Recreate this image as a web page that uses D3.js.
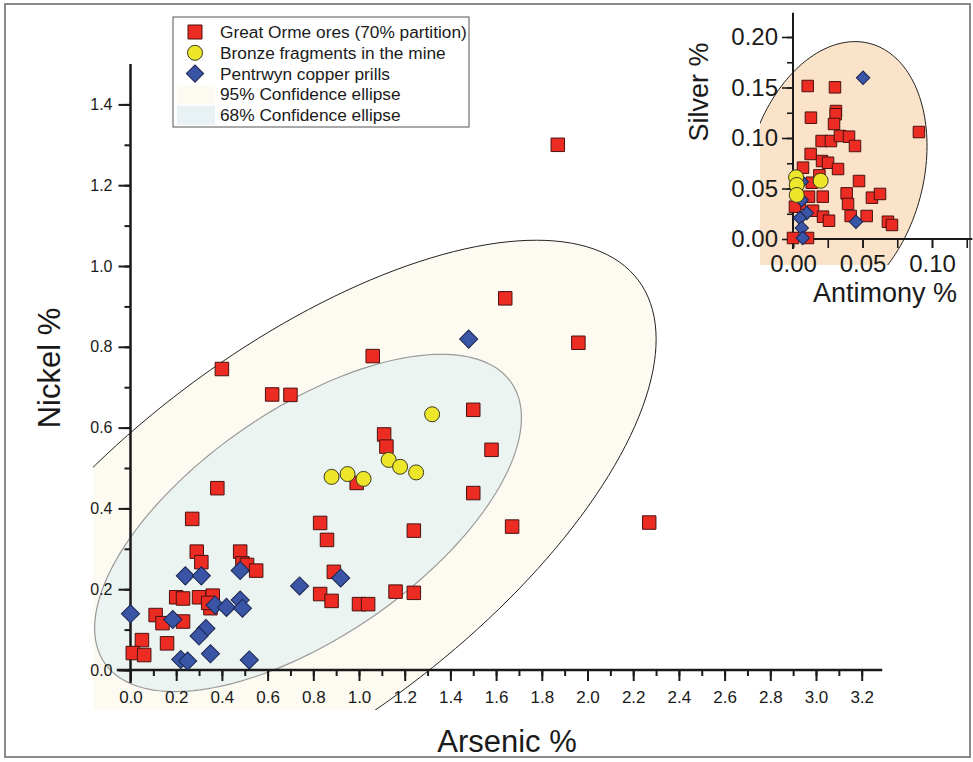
<!DOCTYPE html>
<html>
<head>
<meta charset="utf-8">
<script src="https://cdn.jsdelivr.net/npm/d3@7"></script>
<style>
body { margin: 0; background: #fff; }
text { font-family: "Liberation Sans", Arial, sans-serif; fill: #1a1a1a; }
</style>
</head>
<body>
<svg id="drawing_region"></svg>
<script>
// main plot: arsenic % (x) vs nickel % (y)
const oreMain = [[1.87,1.30],[1.64,0.92],[1.96,0.81],[0.40,0.745],[1.06,0.777],[0.62,0.682],[0.70,0.681],
    [1.11,0.583],[1.12,0.553],[1.50,0.644],[1.58,0.545],[0.38,0.450],[1.50,0.438],[1.67,0.355],[2.27,0.365],
    [0.27,0.374],[0.99,0.463],[0.83,0.364],[0.86,0.322],[1.24,0.345],[0.89,0.243],[0.83,0.188],[0.88,0.171],
    [1.00,0.163],[1.04,0.163],[1.16,0.194],[1.24,0.191],[0.29,0.293],[0.31,0.267],[0.48,0.293],[0.49,0.264],
    [0.51,0.260],[0.55,0.246],[0.20,0.180],[0.23,0.177],[0.30,0.180],[0.36,0.184],[0.35,0.153],[0.34,0.166],
    [0.11,0.136],[0.14,0.116],[0.23,0.120],[0.16,0.066],[0.05,0.074],[0.01,0.042],[0.06,0.037]];
const prillMain = [[1.48,0.819],[0.92,0.228],[0.74,0.208],[0.24,0.233],[0.31,0.233],[0.48,0.246],[0.37,0.161],
    [0.42,0.155],[0.48,0.173],[0.49,0.153],[0.185,0.125],[0.33,0.103],[0.30,0.084],[0.35,0.040],[0.22,0.026],
    [0.25,0.022],[0.52,0.025],[0.0,0.139]];
const bronzeMain = [[0.88,0.478],[0.95,0.485],[1.02,0.473],[1.13,0.520],[1.18,0.503],[1.25,0.489],[1.32,0.633]];

// inset: antimony % (x) vs silver % (y)
const oreInset = [[0.0106,0.1515],[0.0302,0.1502],[0.0129,0.1201],[0.0309,0.1267],[0.0307,0.1235],[0.0295,0.1139],
    [0.0206,0.097],[0.0273,0.097],[0.0338,0.102],[0.0403,0.1013],[0.0446,0.0921],[0.0906,0.1059],[0.0127,0.0842],
    [0.0072,0.0706],[0.0209,0.0772],[0.0252,0.0755],[0.0324,0.0693],[0.0135,0.0557],[0.019,0.063],[0.0475,0.0574],
    [0.0386,0.0452],[0.0396,0.0347],[0.0568,0.0409],[0.0626,0.0446],[0.053,0.0228],[0.0415,0.0228],[0.0683,0.0171],
    [0.0712,0.0139],[0.0214,0.0419],[0.0115,0.0419],[0.0144,0.028],[0.0216,0.0221],[0.0259,0.0181],[0.005,0.035],
    [0.0014,0.032],[0.0,0.001],[0.0108,0.001]];
const prillInset = [[0.0504,0.1597],[0.0453,0.0171],[0.0063,0.0567],[0.0063,0.0386],[0.0099,0.0257],[0.005,0.0208],
    [0.0063,0.0109],[0.007,0.001]];
const bronzeInset = [[0.0022,0.0611],[0.0027,0.0535],[0.0027,0.0436],[0.0199,0.0577]];

// confidence ellipses: centre x, centre y, then two conjugate semi-axis vectors (data units)
const ellipse95 = [0.729, 0.329, 1.493, 0.636, 0.490, -0.368];
const ellipse68 = [0.777, 0.364, 0.890, 0.347, 0.283, -0.232];
const ellipseInset = [0.0302, 0.0634, 0.0253, 0.1301, 0.0612, -0.0226];

const xTicks = [0.0,0.2,0.4,0.6,0.8,1.0,1.2,1.4,1.6,1.8,2.0,2.2,2.4,2.6,2.8,3.0,3.2];
const yTicks = [0.0,0.2,0.4,0.6,0.8,1.0,1.2,1.4];
const insetXTicks = [0.00,0.05,0.10];
const insetYTicks = [0.00,0.05,0.10,0.15,0.20];
const legendLabels = ['Great Orme ores (70% partition)','Bronze fragments in the mine','Pentrwyn copper prills',
    '95% Confidence ellipse','68% Confidence ellipse'];

const W = 973, H = 762;
const svg = d3.select('#drawing_region').attr('width', W).attr('height', H);

const colors = {
    ore: '#ec2b23', bronze: '#eee62a', prill: '#3a55a6',
    fill95: '#fdfbf1', fill68: '#ebf4f0', fillInset: '#fbe3c9'
};

// outer frame
svg.append('rect').attr('x', 5).attr('y', 4).attr('width', 965).attr('height', 753)
    .attr('fill', 'none').attr('stroke', '#8a8a8a').attr('stroke-width', 2);

function ellipsePath(e, xs, ys) {
    const [cx, cy, ax, ay, bx, by] = e;
    const pts = d3.range(0, 360, 2).map(deg => {
        const t = deg * Math.PI / 180;
        return [xs(cx + ax * Math.cos(t) + bx * Math.sin(t)), ys(cy + ay * Math.cos(t) + by * Math.sin(t))];
    });
    return d3.line().curve(d3.curveLinearClosed)(pts);
}

function drawMarkers(g, data, type, xs, ys, size) {
    if (type === 'circle') {
        g.selectAll(null).data(data).enter().append('circle')
            .attr('cx', d => xs(d[0])).attr('cy', d => ys(d[1])).attr('r', size / 2)
            .attr('fill', colors.bronze).attr('stroke', '#3a3a20').attr('stroke-width', 1);
    } else {
        const isDiamond = type === 'diamond';
        g.selectAll(null).data(data).enter().append('path')
            .attr('d', d3.symbol(d3.symbolSquare, size * size)())
            .attr('transform', d => `translate(${xs(d[0])},${ys(d[1])})` + (isDiamond ? ' rotate(45)' : ''))
            .attr('fill', isDiamond ? colors.prill : colors.ore)
            .attr('stroke', isDiamond ? '#1c2550' : '#4a1210').attr('stroke-width', 1);
    }
}

// ---------- main chart ----------
const x = d3.scaleLinear().domain([0, 3.2]).range([130.5, 861.7]);
const y = d3.scaleLinear().domain([0, 1.4]).range([670, 104.4]);

const defs = svg.append('defs');
defs.append('clipPath').attr('id', 'clipMain').append('rect')
    .attr('x', 93).attr('y', 40).attr('width', 820).attr('height', 670);
defs.append('clipPath').attr('id', 'clipInset').append('rect')
    .attr('x', 760).attr('y', 0).attr('width', 213).attr('height', 265);

const ell = svg.append('g').attr('clip-path', 'url(#clipMain)');
ell.append('path').attr('d', ellipsePath(ellipse95, x, y))
    .attr('fill', colors.fill95).attr('stroke', '#222').attr('stroke-width', 1);
ell.append('path').attr('d', ellipsePath(ellipse68, x, y))
    .attr('fill', colors.fill68).attr('stroke', '#9a9a9a').attr('stroke-width', 1.2);

const axes = svg.append('g');
const xMinor = d3.range(0, 33).map(i => i / 10);
const yMinor = d3.range(0, 15).map(i => i / 10);

axes.append('g').attr('transform', `translate(0,${y(0)})`)
    .call(d3.axisBottom(x).tickValues(xMinor).tickSize(6).tickFormat(''))
    .call(g => g.select('.domain').remove());
axes.append('g').attr('transform', `translate(0,${y(0)})`)
    .call(d3.axisBottom(x).tickValues(xTicks).tickSize(11).tickPadding(10).tickFormat(d3.format('.1f')))
    .call(g => g.select('.domain').remove())
    .call(g => g.selectAll('text').style('font-size', '17px').attr('fill', '#1a1a1a'));
axes.append('g').attr('transform', `translate(${x(0)},0)`)
    .call(d3.axisLeft(y).tickValues(yMinor).tickSize(6).tickFormat(''))
    .call(g => g.select('.domain').remove());
axes.append('g').attr('transform', `translate(${x(0)},0)`)
    .call(d3.axisLeft(y).tickValues(yTicks).tickSize(12).tickPadding(6).tickFormat(d3.format('.1f')))
    .call(g => g.select('.domain').remove())
    .call(g => g.selectAll('text').style('font-size', '16px').attr('fill', '#1a1a1a'));
axes.selectAll('.tick line').attr('stroke', '#1a1a1a').attr('stroke-width', 2);

axes.append('line').attr('x1', x(-0.06)).attr('x2', x(3.29)).attr('y1', y(0)).attr('y2', y(0))
    .attr('stroke', '#1a1a1a').attr('stroke-width', 2.5);
axes.append('line').attr('x1', x(0)).attr('x2', x(0)).attr('y1', y(-0.032)).attr('y2', y(1.5))
    .attr('stroke', '#1a1a1a').attr('stroke-width', 2.5);

svg.append('text').attr('x', 507).attr('y', 752).attr('text-anchor', 'middle')
    .style('font-size', '31px').text('Arsenic %');
svg.append('text').attr('transform', 'translate(60,368) rotate(-90)').attr('text-anchor', 'middle')
    .style('font-size', '31px').text('Nickel %');

const pts = svg.append('g');
drawMarkers(pts.append('g'), oreMain, 'square', x, y, 13.5);
drawMarkers(pts.append('g'), prillMain, 'diamond', x, y, 12.8);
drawMarkers(pts.append('g'), bronzeMain, 'circle', x, y, 15);

// ---------- inset ----------
const xi = d3.scaleLinear().domain([0, 0.10]).range([793, 932]);
const yi = d3.scaleLinear().domain([0, 0.20]).range([239, 37]);

svg.append('g').attr('clip-path', 'url(#clipInset)').append('path')
    .attr('d', ellipsePath(ellipseInset, xi, yi))
    .attr('fill', colors.fillInset).attr('stroke', '#222').attr('stroke-width', 1);

const ia = svg.append('g');
ia.append('g').attr('transform', `translate(0,${yi(0)})`)
    .call(d3.axisBottom(xi).tickValues(d3.range(0, 6).map(i => i * 0.025)).tickSize(9).tickFormat(''))
    .call(g => g.select('.domain').remove());
ia.append('g').attr('transform', `translate(0,${yi(0)})`)
    .call(d3.axisBottom(xi).tickValues(insetXTicks).tickSize(9).tickPadding(7).tickFormat(d3.format('.2f')))
    .call(g => g.select('.domain').remove())
    .call(g => g.selectAll('text').style('font-size', '24px').attr('fill', '#1a1a1a'));
ia.append('g').attr('transform', `translate(${xi(0)},0)`)
    .call(d3.axisLeft(yi).tickValues(d3.range(0, 9).map(i => i * 0.025)).tickSize(6).tickFormat(''))
    .call(g => g.select('.domain').remove());
ia.append('g').attr('transform', `translate(${xi(0)},0)`)
    .call(d3.axisLeft(yi).tickValues(insetYTicks).tickSize(11).tickPadding(4).tickFormat(d3.format('.2f')))
    .call(g => g.select('.domain').remove())
    .call(g => g.selectAll('text').style('font-size', '24px').attr('fill', '#1a1a1a'));
ia.selectAll('.tick line').attr('stroke', '#1a1a1a').attr('stroke-width', 1.6);
ia.append('line').attr('x1', xi(-0.0036)).attr('x2', xi(0.129)).attr('y1', yi(0)).attr('y2', yi(0))
    .attr('stroke', '#1a1a1a').attr('stroke-width', 2);
ia.append('line').attr('x1', xi(0)).attr('x2', xi(0)).attr('y1', yi(-0.01)).attr('y2', yi(0.224))
    .attr('stroke', '#1a1a1a').attr('stroke-width', 2);

svg.append('text').attr('x', 885).attr('y', 302).attr('text-anchor', 'middle')
    .style('font-size', '27px').text('Antimony %');
svg.append('text').attr('transform', 'translate(708,92) rotate(-90)').attr('text-anchor', 'middle')
    .style('font-size', '27px').text('Silver %');

const ipts = svg.append('g');
drawMarkers(ipts.append('g'), oreInset, 'square', xi, yi, 11.5);
drawMarkers(ipts.append('g'), prillInset, 'diamond', xi, yi, 9.5);
drawMarkers(ipts.append('g'), bronzeInset, 'circle', xi, yi, 15);

// ---------- legend ----------
const lg = svg.append('g');
lg.append('rect').attr('x', 173).attr('y', 17).attr('width', 296).attr('height', 110)
    .attr('fill', '#fff').attr('stroke', '#555').attr('stroke-width', 1);
const rowY = i => 32 + i * 20.8;
const sym = d3.scaleOrdinal().domain(legendLabels).range(['square', 'circle', 'diamond', 'fill95', 'fill68']);
legendLabels.forEach((lab, i) => {
    const t = sym(lab), cy = rowY(i);
    if (t === 'square' || t === 'diamond') {
        lg.append('path').attr('d', d3.symbol(d3.symbolSquare, t === 'square' ? 196 : 150)())
            .attr('transform', `translate(195,${cy})` + (t === 'diamond' ? ' rotate(45)' : ''))
            .attr('fill', t === 'square' ? colors.ore : colors.prill)
            .attr('stroke', t === 'square' ? '#4a1210' : '#1c2550');
    } else if (t === 'circle') {
        lg.append('circle').attr('cx', 195).attr('cy', cy).attr('r', 7.5)
            .attr('fill', colors.bronze).attr('stroke', '#3a3a20');
    } else {
        lg.append('rect').attr('x', 177).attr('y', cy - 9.5).attr('width', 38).attr('height', 19)
            .attr('fill', t === 'fill95' ? colors.fill95 : '#e8f2f4');
    }
    lg.append('text').attr('x', 220).attr('y', cy + 6).style('font-size', '17.3px').text(lab);
});
</script>
</body>
</html>
